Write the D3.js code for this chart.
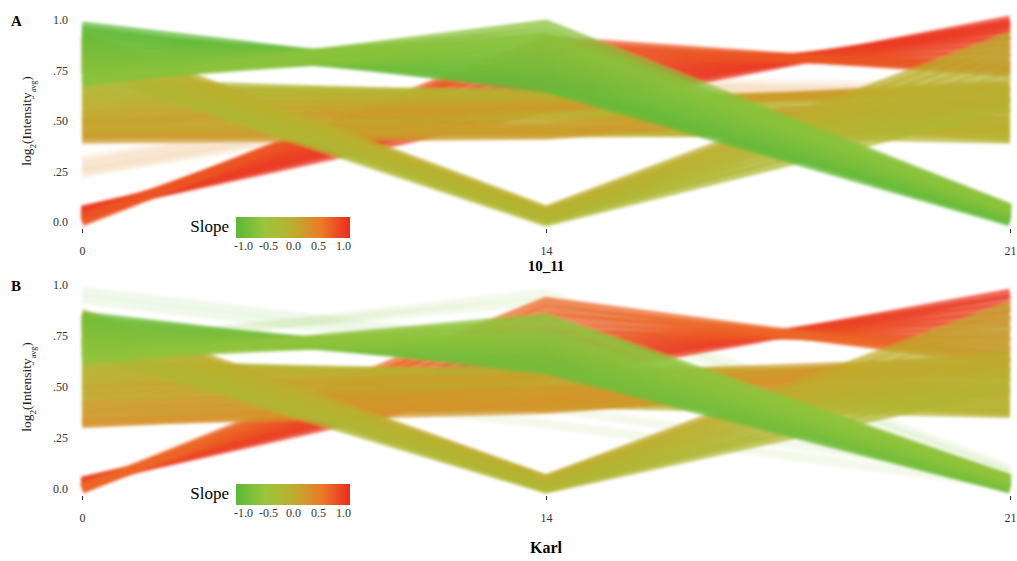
<!DOCTYPE html>
<html lang="en">
<head>
<meta charset="UTF-8">
<title>Slope profiles</title>
<script src="https://d3js.org/d3.v7.min.js"></script>
<style>
  body { margin: 0; background: #fff; }
  svg { display: block; font-family: "Liberation Serif", "DejaVu Serif", serif; }
  .tick text { font-size: 12px; fill: #333; font-family: "Liberation Serif", "DejaVu Serif", serif; }
</style>
</head>
<body>
<script>
var W = 1017, H = 561;

var days = ["0", "14", "21"];
var yTicks = [0, 0.25, 0.5, 0.75, 1];
var yTickLabels = ["0.0", ".25", ".50", ".75", "1.0"];
var slopeTicks = [-1, -0.5, 0, 0.5, 1];
var slopeColors = ["#5cb83a", "#9ac53c", "#bcae2e", "#ec7a28", "#ea2a1e"];

// panel A (10_11), each line = [day 0, day 14, day 21]
var beigeA = [[0.31, 0.70, 0.67], [0.29, 0.68, 0.65], [0.27, 0.66, 0.64], [0.25, 0.64, 0.63], [0.24, 0.62, 0.62]];
var redA = [[0.06, 0.56, 1.00], [0.055, 0.60, 0.98], [0.05, 0.64, 0.96], [0.045, 0.68, 0.93], [0.04, 0.72, 0.90],
            [0.03, 0.76, 0.86], [0.025, 0.80, 0.82], [0.02, 0.84, 0.78], [0.01, 0.87, 0.76], [0.00, 0.90, 0.74]];
var oliveA = [[0.69, 0.62, 0.50], [0.67, 0.60, 0.47], [0.65, 0.64, 0.55], [0.63, 0.58, 0.44], [0.61, 0.62, 0.60],
              [0.59, 0.56, 0.42], [0.57, 0.60, 0.64], [0.55, 0.54, 0.46], [0.53, 0.58, 0.66], [0.51, 0.52, 0.50],
              [0.50, 0.46, 0.41], [0.49, 0.56, 0.68], [0.47, 0.50, 0.53], [0.45, 0.47, 0.62], [0.44, 0.44, 0.45],
              [0.43, 0.45, 0.57], [0.41, 0.43, 0.60]];
var vA = [[0.92, 0.06, 0.92], [0.90, 0.05, 0.88], [0.88, 0.045, 0.84], [0.86, 0.04, 0.80], [0.84, 0.03, 0.76],
          [0.82, 0.025, 0.72], [0.80, 0.02, 0.67], [0.78, 0.01, 0.62], [0.76, 0.00, 0.57]];
var greenA = [[0.97, 0.70, 0.01], [0.95, 0.66, 0.00], [0.93, 0.74, 0.02], [0.91, 0.68, 0.01], [0.89, 0.78, 0.03],
              [0.87, 0.72, 0.02], [0.85, 0.82, 0.04], [0.83, 0.76, 0.03], [0.81, 0.86, 0.05], [0.79, 0.80, 0.04],
              [0.77, 0.90, 0.06], [0.75, 0.84, 0.05], [0.73, 0.94, 0.07], [0.71, 0.88, 0.06], [0.69, 0.98, 0.07],
              [0.70, 0.92, 0.06]];

// panel B (Karl)
var faintB = [[0.97, 0.70, 0.05], [0.93, 0.66, 0.03], [0.70, 0.96, 0.10], [0.72, 0.92, 0.08],
              [0.60, 0.40, 0.06], [0.56, 0.32, 0.02]];
var redB = [[0.04, 0.55, 0.96], [0.035, 0.59, 0.93], [0.03, 0.63, 0.89], [0.025, 0.67, 0.85], [0.02, 0.71, 0.81],
            [0.015, 0.75, 0.76], [0.01, 0.79, 0.72], [0.005, 0.84, 0.68], [0.00, 0.88, 0.65], [0.00, 0.92, 0.62]];
var oliveB = [[0.63, 0.52, 0.46], [0.61, 0.56, 0.50], [0.59, 0.50, 0.42], [0.57, 0.58, 0.56], [0.55, 0.48, 0.38],
              [0.53, 0.54, 0.60], [0.51, 0.46, 0.40], [0.49, 0.55, 0.63], [0.47, 0.44, 0.44], [0.45, 0.50, 0.58],
              [0.43, 0.42, 0.37], [0.41, 0.48, 0.65], [0.39, 0.40, 0.52], [0.37, 0.45, 0.62], [0.35, 0.41, 0.48],
              [0.33, 0.39, 0.56], [0.32, 0.43, 0.60]];
var vB = [[0.86, 0.05, 0.90], [0.84, 0.045, 0.85], [0.82, 0.04, 0.80], [0.80, 0.03, 0.75], [0.78, 0.025, 0.70],
          [0.75, 0.02, 0.65], [0.73, 0.01, 0.60], [0.71, 0.005, 0.55], [0.68, 0.00, 0.50]];
var greenB = [[0.85, 0.58, 0.00], [0.83, 0.62, 0.01], [0.81, 0.60, 0.00], [0.79, 0.66, 0.02], [0.77, 0.64, 0.01],
              [0.75, 0.70, 0.03], [0.73, 0.68, 0.02], [0.71, 0.74, 0.04], [0.69, 0.72, 0.03], [0.67, 0.78, 0.05],
              [0.65, 0.76, 0.04], [0.64, 0.82, 0.05], [0.63, 0.84, 0.05]];

var panels = [
  {label: "A", title: "10_11", top: 20, bottom: 222,
   bands: [[beigeA, 0.1], [redA, 0.75], [oliveA, 0.75], [vA, 0.75], [greenA, 0.75]]},
  {label: "B", title: "Karl", top: 285, bottom: 489,
   bands: [[faintB, 0.1], [redB, 0.75], [oliveB, 0.75], [vB, 0.75], [greenB, 0.75]]}
];

var svg = d3.select("body").append("svg").attr("width", W).attr("height", H);

var color = d3.scaleLinear().domain(slopeTicks).range(slopeColors).clamp(true);

var defs = svg.append("defs");
defs.append("filter").attr("id", "soft")
  .attr("x", "-5%").attr("y", "-5%").attr("width", "110%").attr("height", "110%")
  .append("feGaussianBlur").attr("stdDeviation", 1.4);

var grad = defs.append("linearGradient").attr("id", "slopeGrad");
slopeTicks.forEach(function(t, i) {
  grad.append("stop").attr("offset", (i / (slopeTicks.length - 1) * 100) + "%").attr("stop-color", color(t));
});

var x = d3.scalePoint().domain(days).range([82, 1010]);

panels.forEach(function(p) {
  var y = d3.scaleLinear().domain([0, 1]).range([p.bottom, p.top]);
  var line = d3.line().x(function(d, i) { return x(days[i]); }).y(function(d) { return y(d); });

  var g = svg.append("g").attr("filter", "url(#soft)");
  p.bands.forEach(function(b) {
    g.append("g").selectAll("path")
      .data(b[0])
      .enter()
      .append("path")
      .attr("d", line)
      .attr("fill", "none")
      .attr("stroke", function(d) { return color(d[2] - d[0]); })
      .attr("stroke-width", 9)
      .attr("stroke-opacity", b[1]);
  });

  // axes
  var xa = svg.append("g")
    .attr("transform", "translate(0," + (p.bottom + 7) + ")")
    .call(d3.axisBottom(x).tickSize(4).tickPadding(13));
  xa.select(".domain").remove();
  xa.selectAll(".tick line").attr("stroke", "#333");

  var ya = svg.append("g")
    .attr("transform", "translate(72,0)")
    .call(d3.axisLeft(y).tickValues(yTicks).tickFormat(function(d, i) { return yTickLabels[i]; })
      .tickSize(0).tickPadding(4));
  ya.select(".domain").remove();

  // y title with subscripts
  var yt = svg.append("text")
    .attr("transform", "translate(31," + ((p.top + p.bottom) / 2) + ") rotate(-90)")
    .attr("text-anchor", "middle")
    .style("font-size", "13.5px")
    .attr("fill", "#222");
  yt.append("tspan").text("log");
  yt.append("tspan").attr("baseline-shift", "sub").style("font-size", "9px").text("2");
  yt.append("tspan").text("(Intensity");
  yt.append("tspan").attr("baseline-shift", "sub").style("font-size", "8px").text("avg");
  yt.append("tspan").text(")");

  svg.append("text")
    .attr("x", 11).attr("y", p.top + 6)
    .style("font-size", "15px").style("font-weight", "bold")
    .text(p.label);

  svg.append("text")
    .attr("x", x("14")).attr("y", p.bottom + (p.label == "A" ? 49 : 64))
    .attr("text-anchor", "middle")
    .style("font-size", p.label == "A" ? "15px" : "16px").style("font-weight", "bold")
    .text(p.title);

  // slope legend
  var lx = 236, ly = p.bottom - 5;
  svg.append("text")
    .attr("x", lx - 7).attr("y", ly + 15)
    .attr("text-anchor", "end")
    .style("font-size", "17px")
    .text("Slope");
  svg.append("rect")
    .attr("x", lx).attr("y", ly)
    .attr("width", 114).attr("height", 21)
    .attr("fill", "url(#slopeGrad)");
  var ls = d3.scaleLinear().domain([-1, 1]).range([lx + 7, lx + 107]);
  var la = svg.append("g")
    .attr("transform", "translate(0," + (ly + 21) + ")")
    .call(d3.axisBottom(ls).tickValues(slopeTicks).tickSize(0).tickPadding(3)
      .tickFormat(function(d) { return d.toFixed(1); }));
  la.select(".domain").remove();
});
</script>
</body>
</html>
